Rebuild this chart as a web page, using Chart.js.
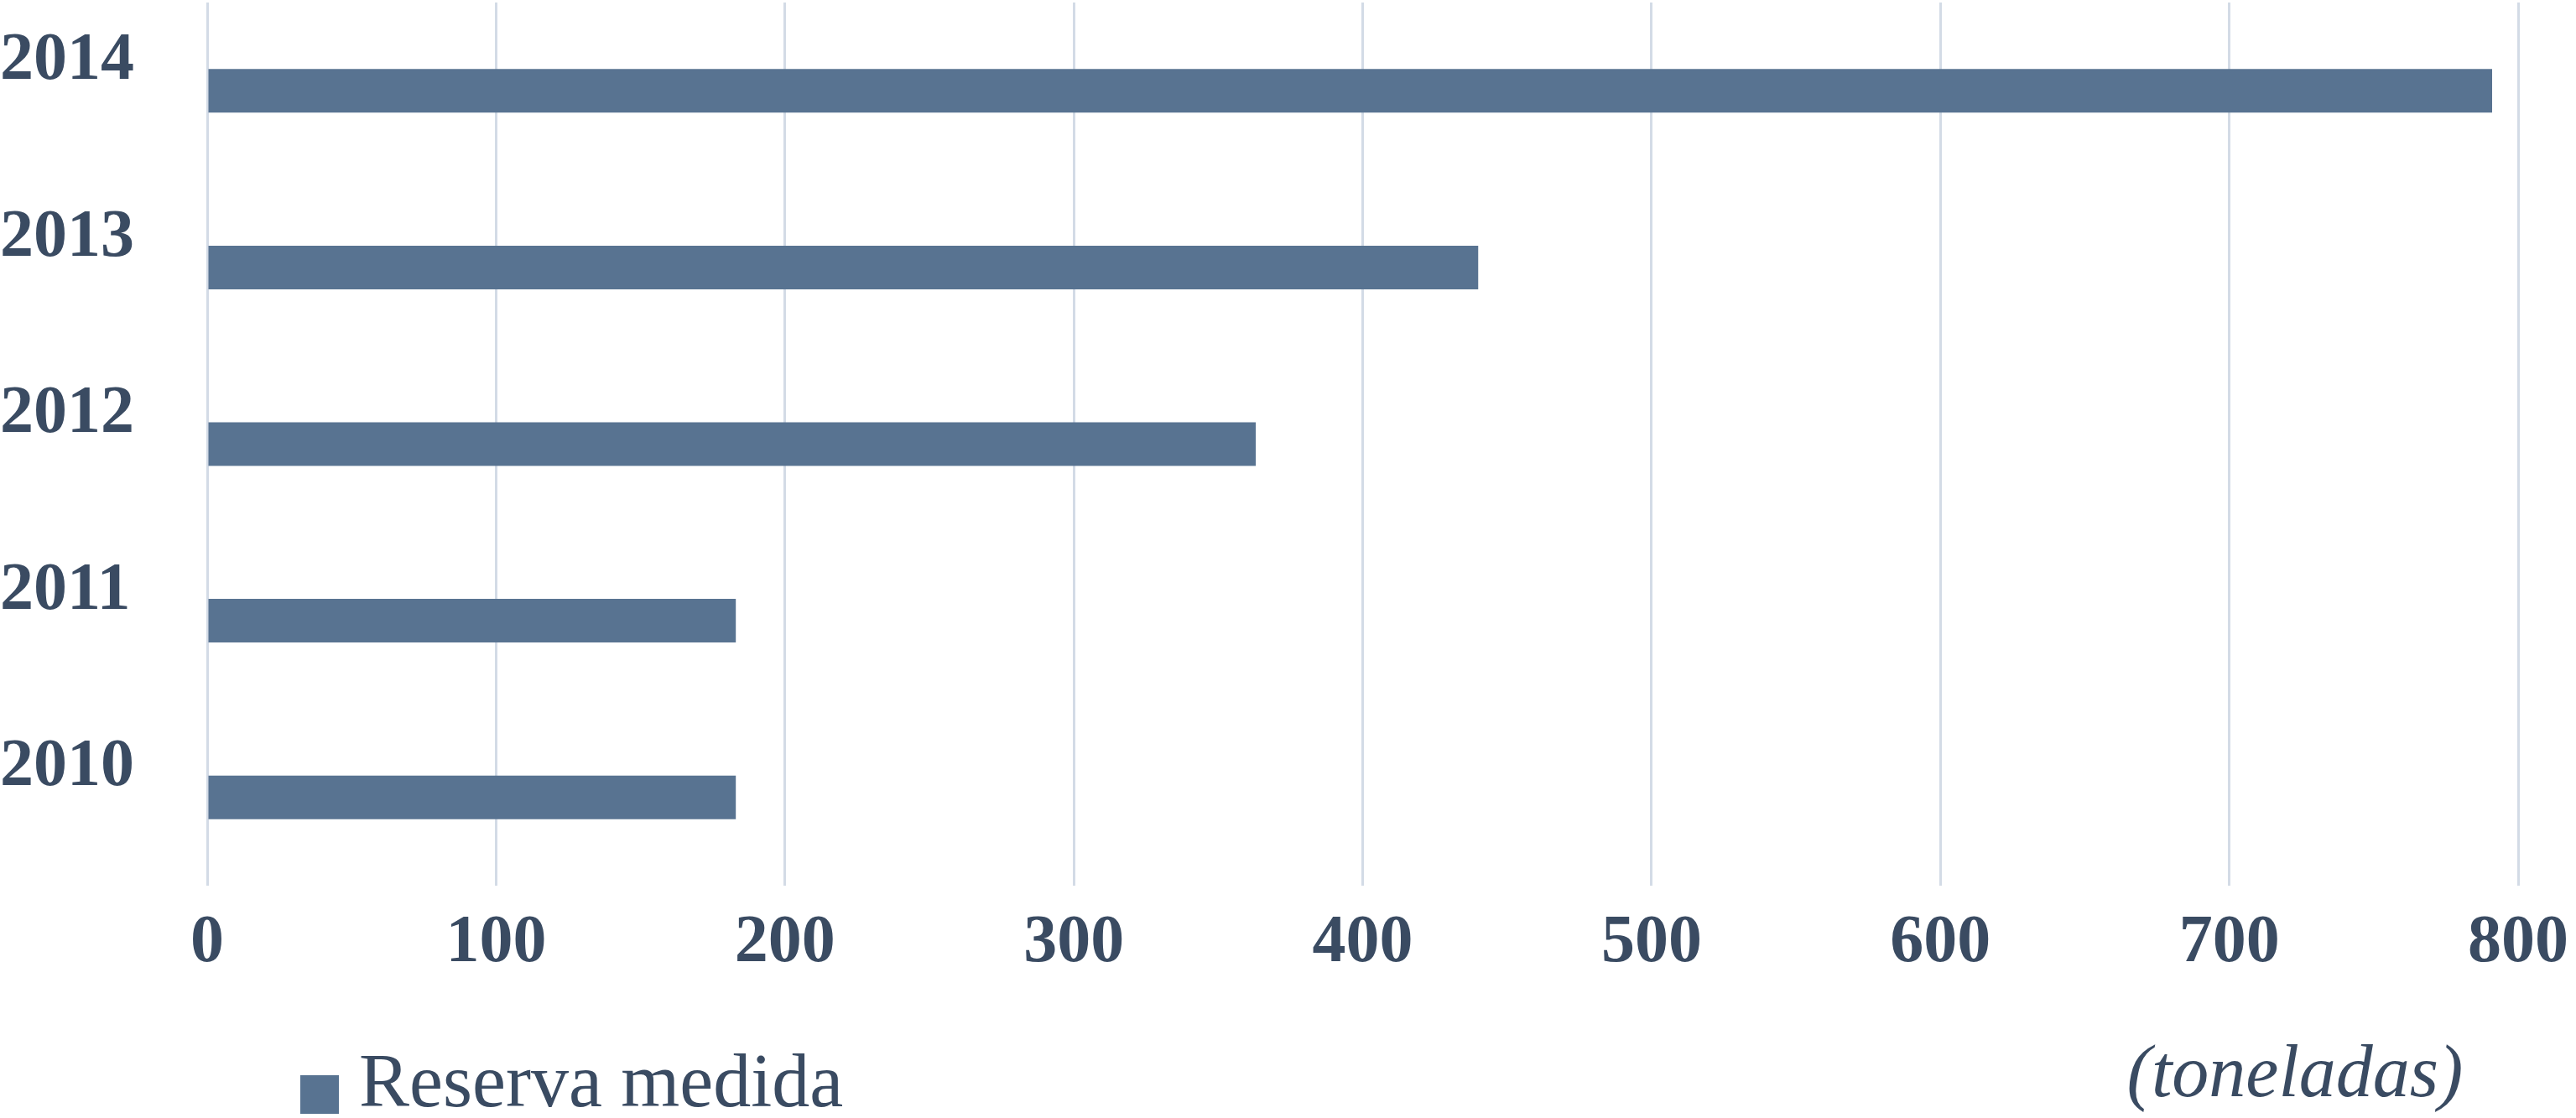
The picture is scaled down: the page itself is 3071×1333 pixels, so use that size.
<!DOCTYPE html>
<html>
<head>
<meta charset="utf-8">
<script src="https://cdn.jsdelivr.net/npm/chart.js@4.4.1/dist/chart.umd.min.js"></script>
<style>
html, body { margin: 0; padding: 0; background: #fff; }
</style>
</head>
<body>
<canvas id="myChart" width="3071" height="1333"></canvas>
<script>
var years = ["2010", "2011", "2012", "2013", "2014"];
var reserva = [183, 183, 363, 440, 791];
var xMin = 0;
var xMax = 800;
var xStep = 100;
var seriesName = "Reserva medida";
var unitLabel = "(toneladas)";

var textColor = '#3a4b62';
var barColor = '#587391';
var gridColor = '#d3dbe6';
var serif = '"Liberation Serif", "DejaVu Serif", serif';

// legend and unit note drawn under the chart
var bottomText = {
    id: 'bottomText',
    afterDraw: function(chart) {
        var c = chart.ctx;
        var ds = chart.data.datasets[0];
        c.save();
        c.fillStyle = ds.backgroundColor;
        c.fillRect(358, 1282, 46, 46);
        c.fillStyle = textColor;
        c.textBaseline = 'alphabetic';
        c.font = '90px ' + serif;
        c.fillText(ds.label, 428, 1319);
        c.font = 'italic 88px ' + serif;
        c.textAlign = 'center';
        c.fillText(unitLabel, 2736, 1307);
        c.restore();
    }
};

var ctx = document.getElementById("myChart").getContext('2d');
var myChart = new Chart(ctx, {
    type: 'bar',
    data: {
        labels: years,
        datasets: [{
            label: seriesName,
            data: reserva,
            backgroundColor: barColor,
            borderWidth: 0,
            categoryPercentage: 1,
            barPercentage: 0.247
        }]
    },
    plugins: [bottomText],
    options: {
        indexAxis: 'y',
        responsive: false,
        animation: false,
        layout: {
            padding: { top: 3, right: 69, bottom: 147, left: 0 }
        },
        plugins: {
            legend: { display: false },
            tooltip: { enabled: false }
        },
        scales: {
            x: {
                min: xMin,
                max: xMax,
                ticks: {
                    stepSize: xStep,
                    padding: 21,
                    color: textColor,
                    font: { family: serif, size: 80, weight: 'bold' }
                },
                grid: {
                    color: gridColor,
                    lineWidth: 3,
                    drawTicks: false
                },
                border: { display: false },
                afterFit: function(s) {
                    s.height = 130;
                    s.paddingLeft = 0;
                    s.paddingRight = 0;
                }
            },
            y: {
                reverse: true,
                ticks: {
                    crossAlign: 'far',
                    labelOffset: -35,
                    color: textColor,
                    font: { family: serif, size: 80, weight: 'bold' }
                },
                grid: { display: false },
                border: { display: false },
                afterFit: function(s) {
                    s.width = 247;
                    s.paddingTop = 0;
                    s.paddingBottom = 0;
                }
            }
        }
    }
});
</script>
</body>
</html>
